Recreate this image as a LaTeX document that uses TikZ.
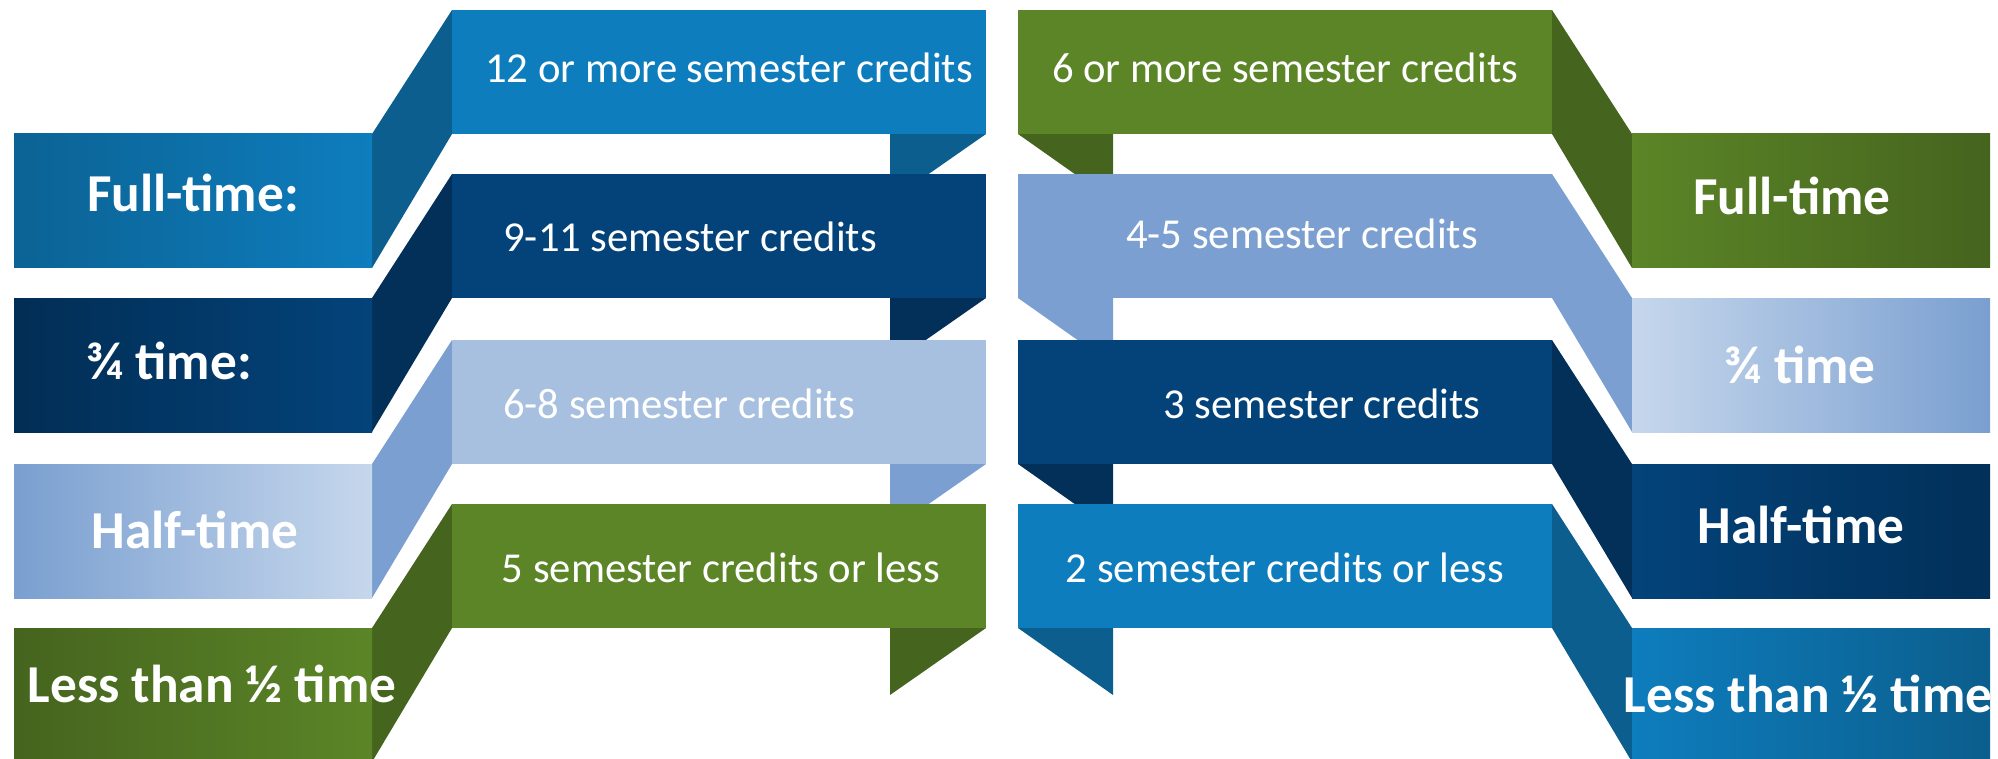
\documentclass[tikz,border=0pt]{standalone}
\usepackage{fontspec}
\setmainfont{Carlito}

\definecolor{midblue}{HTML}{0E7DBD}
\definecolor{midbluedk}{HTML}{0B5E8D}
\definecolor{navy}{HTML}{03437A}
\definecolor{navydk}{HTML}{023059}
\definecolor{paleblue}{HTML}{A8C0DF}
\definecolor{skyblue}{HTML}{7A9FD0}
\definecolor{iceblue}{HTML}{C6D7EC}
\definecolor{leaf}{HTML}{5B8527}
\definecolor{leafdk}{HTML}{45641E}

\tikzset{every picture/.style={line width=0.75pt}}
\tikzset{
  bannertxt/.style={anchor=base, text=white, font=\fontsize{32}{37}\selectfont},
  tabtxt/.style={anchor=base, text=white, font=\fontsize{40}{45}\selectfont\bfseries}
}

\begin{document}
\begin{tikzpicture}[x=0.75pt,y=0.75pt,yscale=-1,xscale=1]
	\useasboundingbox (0,0) rectangle (1998,759);

	%%%%%%%%%%%%%%%% left column
	%Shape: Tails [id:left]
	\fill [midbluedk] (890,134) -- (986,134) -- (890,201) -- cycle ;
	\fill [navydk] (890,298) -- (986,298) -- (890,365) -- cycle ;
	\fill [skyblue] (890,464) -- (986,464) -- (890,531) -- cycle ;
	\fill [leafdk] (890,628) -- (986,628) -- (890,695) -- cycle ;

	%Shape: Folds [id:left]
	\fill [midbluedk] (372,134) -- (452,10) -- (452,134) -- (372,268) -- cycle ;
	\fill [navydk] (372,298) -- (452,174) -- (452,298) -- (372,432) -- cycle ;
	\fill [skyblue] (372,464) -- (452,340) -- (452,464) -- (372,598) -- cycle ;
	\fill [leafdk] (372,628) -- (452,504) -- (452,628) -- (372,762) -- cycle ;

	%Shape: Rectangle [id:banners left]
	\fill [midblue] (452,10) rectangle (986,134) ;
	\fill [navy] (452,174) rectangle (986,298) ;
	\fill [paleblue] (452,340) rectangle (986,464) ;
	\fill [leaf] (452,504) rectangle (986,628) ;

	%Shape: Rectangle [id:tabs left]
	\shade [left color=midbluedk!85!midblue, middle color=midblue!95!black, right color=midblue] (14,134) rectangle (372,268) ;
	\shade [left color=navydk!95!black, middle color=navy!92!black, right color=navy] (14,298) rectangle (372,432) ;
	\shade [left color=skyblue, middle color=paleblue, right color=iceblue] (14,464) rectangle (372,598) ;
	\shade [left color=leafdk, middle color=leaf!95!black, right color=leaf] (14,628) rectangle (372,762) ;

	%%%%%%%%%%%%%%%% right column
	%Shape: Tails [id:right]
	\fill [leafdk] (1018,134) -- (1113,134) -- (1113,201) -- cycle ;
	\fill [skyblue] (1018,298) -- (1113,298) -- (1113,365) -- cycle ;
	\fill [navydk] (1018,464) -- (1113,464) -- (1113,531) -- cycle ;
	\fill [midbluedk] (1018,628) -- (1113,628) -- (1113,695) -- cycle ;

	%Shape: Folds [id:right]
	\fill [leafdk] (1552,10) -- (1632,134) -- (1632,268) -- (1552,134) -- cycle ;
	\fill [skyblue] (1552,174) -- (1632,298) -- (1632,432) -- (1552,298) -- cycle ;
	\fill [navydk] (1552,340) -- (1632,464) -- (1632,598) -- (1552,464) -- cycle ;
	\fill [midbluedk] (1552,504) -- (1632,628) -- (1632,762) -- (1552,628) -- cycle ;

	%Shape: Rectangle [id:banners right]
	\fill [leaf] (1018,10) rectangle (1552,134) ;
	\fill [skyblue] (1018,174) rectangle (1552,298) ;
	\fill [navy] (1018,340) rectangle (1552,464) ;
	\fill [midblue] (1018,504) rectangle (1552,628) ;

	%Shape: Rectangle [id:tabs right]
	\shade [left color=leaf, middle color=leaf!88!black, right color=leafdk] (1632,134) rectangle (1990,268) ;
	\shade [left color=iceblue, middle color=paleblue!90!skyblue, right color=skyblue] (1632,298) rectangle (1990,432) ;
	\shade [left color=navy, middle color=navy!90!navydk, right color=navydk] (1632,464) rectangle (1990,598) ;
	\shade [left color=midblue, middle color=midblue!80!midbluedk, right color=midbluedk] (1632,628) rectangle (1990,762) ;

	% Text Node
	\node [bannertxt] (crL1) at (729,83) {12 or more semester credits};
	% Text Node
	\node [bannertxt] (crL2) at (690,252) {9-11 semester credits};
	% Text Node
	\node [bannertxt] (crL3) at (679,418) {6-8 semester credits};
	% Text Node
	\node [bannertxt] (crL4) at (721,582) {5 semester credits or less};
	% Text Node
	\node [bannertxt] (crR1) at (1285,83) {6 or more semester credits};
	% Text Node
	\node [bannertxt] (crR2) at (1302,248) {4-5 semester credits};
	% Text Node
	\node [bannertxt] (crR3) at (1322,418) {3 semester credits};
	% Text Node
	\node [bannertxt] (crR4) at (1285,582) {2 semester credits or less};

	% Text Node
	\node [tabtxt] (stL1) at (193,212) {Full-time:};
	% Text Node
	\node [tabtxt] (stL2) at (169,379) {¾ time:};
	% Text Node
	\node [tabtxt] (stL3) at (195,548) {Half-time};
	% Text Node
	\node [tabtxt] (stL4) at (212,702) {Less than ½ time};
	% Text Node
	\node [tabtxt] (stR1) at (1792,215) {Full-time};
	% Text Node
	\node [tabtxt] (stR2) at (1800,383) {¾ time};
	% Text Node
	\node [tabtxt] (stR3) at (1801,543) {Half-time};
	% Text Node
	\node [tabtxt] (stR4) at (1808,712) {Less than ½ time};

\end{tikzpicture}
\end{document}
